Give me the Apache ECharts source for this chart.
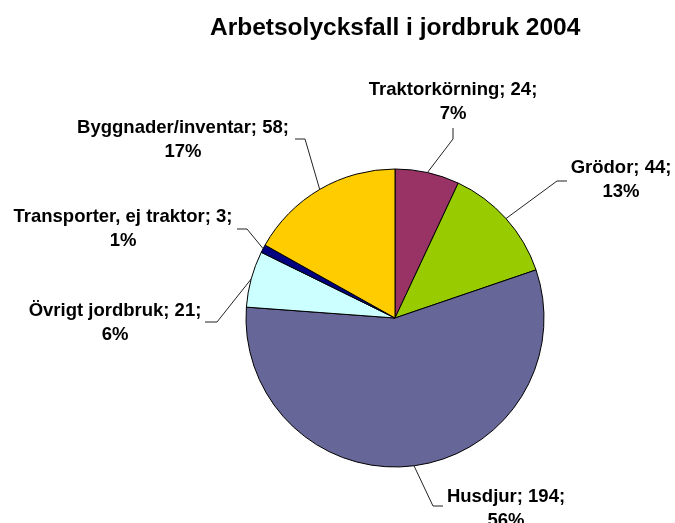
<!DOCTYPE html>
<html>
<head>
<meta charset="utf-8">
<style>
  html, body { margin: 0; padding: 0; background: #fff; }
  #chart { width: 675px; height: 523px; }
</style>
<script src="https://cdn.jsdelivr.net/npm/echarts@6/dist/echarts.min.js"></script>
</head>
<body>
<div id="chart"></div>
<script>
var categories = ['Traktorkörning', 'Grödor', 'Husdjur', 'Övrigt jordbruk', 'Transporter, ej traktor', 'Byggnader/inventar'];
var counts = [24, 44, 194, 21, 3, 58];
var sliceColors = ['#993366', '#99CC00', '#666699', '#CCFFFF', '#000080', '#FFCC00'];

// where each label sits, and the bend + end of its leader line
var labelCenters = [[453, 102], [621, 180], [506, 509], [115, 323], [123, 229], [183, 140]];
var lineElbows = [[453, 139], [557, 181], [433, 506], [217, 322], [247, 229], [305, 139]];
var lineEnds = [[453, 128], [567, 181], [443, 506], [205, 322], [237, 229], [295, 139]];

var chart = echarts.init(document.getElementById('chart'));

var pieData = categories.map(function (name, i) {
    return { name: name, value: counts[i], itemStyle: { color: sliceColors[i] } };
});

var option = {
    animation: false,
    title: {
        text: 'Arbetsolycksfall i jordbruk 2004',
        left: 210,
        top: 16,
        padding: 0,
        textStyle: {
            fontFamily: 'Liberation Sans, Arial, sans-serif',
            fontSize: 24.5,
            fontWeight: 'bold',
            color: '#000',
            lineHeight: 24.5
        }
    },
    series: [
        {
            type: 'pie',
            center: [395, 318],
            radius: 149,
            startAngle: 90,
            clockwise: true,
            avoidLabelOverlap: false,
            percentPrecision: 0,
            silent: true,
            itemStyle: {
                borderColor: '#000',
                borderWidth: 1
            },
            label: {
                show: true,
                position: 'outside',
                formatter: '{b}; {c};\n{d}%',
                fontFamily: 'Liberation Sans, Arial, sans-serif',
                fontSize: 18.5,
                fontWeight: 'bold',
                color: '#000',
                lineHeight: 24,
                align: 'center'
            },
            labelLine: {
                show: true,
                lineStyle: { color: '#222', width: 1 }
            },
            labelLayout: function (params) {
                var i = params.dataIndex;
                var c = labelCenters[i];
                var out = { x: c[0], y: c[1], align: 'center', verticalAlign: 'middle' };
                if (params.labelLinePoints && params.labelLinePoints[0]) {
                    out.labelLinePoints = [params.labelLinePoints[0], lineElbows[i], lineEnds[i]];
                }
                return out;
            },
            data: pieData
        }
    ]
};

chart.setOption(option);
</script>
</body>
</html>
